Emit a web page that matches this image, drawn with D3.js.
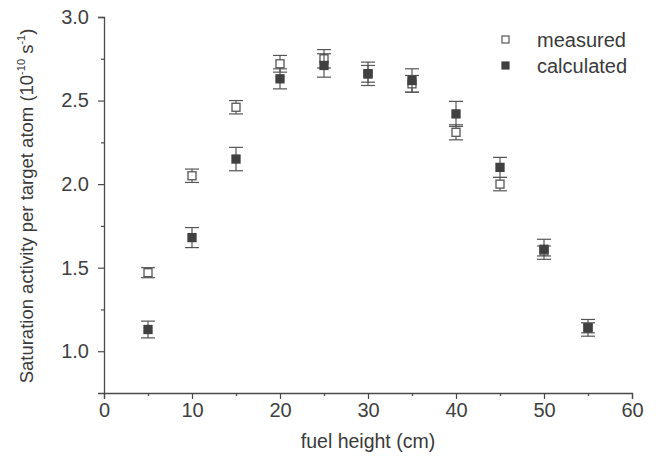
<!DOCTYPE html>
<html>
<head>
<meta charset="utf-8">
<script src="https://cdn.jsdelivr.net/npm/d3@7"></script>
<style>
  html, body { margin: 0; padding: 0; background: #fff; }
  svg { display: block; }
  text { font-family: "Liberation Sans", Arial, sans-serif; fill: #3a3a3a; }
</style>
</head>
<body>
<svg id="chart" width="660" height="460"></svg>
<script>
const fuelHeight = [5, 10, 15, 20, 25, 30, 35, 40, 45, 50, 55];
const measured    = [1.47, 2.05, 2.46, 2.72, 2.75, 2.66, 2.60, 2.31, 2.00, 1.60, 1.14];
const measuredErr = [0.03, 0.04, 0.04, 0.05, 0.055, 0.05, 0.05, 0.045, 0.04, 0.03, 0.03];
const calculated    = [1.13, 1.68, 2.15, 2.63, 2.71, 2.66, 2.62, 2.42, 2.10, 1.61, 1.14];
const calculatedErr = [0.05, 0.06, 0.07, 0.06, 0.07, 0.07, 0.07, 0.075, 0.06, 0.06, 0.05];
const xMajorTicks = [0, 10, 20, 30, 40, 50, 60];
const xMinorTicks = [5, 15, 25, 35, 45, 55];
const yMajorTicks = [1.0, 1.5, 2.0, 2.5, 3.0];
const yMinorTicks = [1.25, 1.75, 2.25, 2.75];
const seriesNames = ["measured", "calculated"];

const svg = d3.select("#chart");
const axisColor = "#4a4a4a";
const x = d3.scaleLinear().domain([0, 60]).range([104, 632]);
const y = d3.scaleLinear().domain([0.75, 3.0]).range([393, 17]);

// axes
const xAxis = svg.append("g").attr("transform", "translate(0,393)")
  .call(d3.axisBottom(x).tickValues(xMajorTicks).tickFormat(d3.format("d")).tickSize(6).tickPadding(4));
const xMinor = svg.append("g").attr("transform", "translate(0,393)")
  .call(d3.axisBottom(x).tickValues(xMinorTicks).tickFormat("").tickSize(3));
const yAxis = svg.append("g").attr("transform", "translate(104,0)")
  .call(d3.axisLeft(y).tickValues(yMajorTicks).tickFormat(d3.format(".1f")).tickSize(6).tickPadding(9));
const yMinor = svg.append("g").attr("transform", "translate(104,0)")
  .call(d3.axisLeft(y).tickValues(yMinorTicks).tickFormat("").tickSize(3));
[xAxis, xMinor, yAxis, yMinor].forEach(g => {
  g.selectAll("path.domain").attr("stroke", axisColor).attr("stroke-width", 1.3);
  g.selectAll(".tick line").attr("stroke", axisColor).attr("stroke-width", 1.2);
  g.selectAll(".tick text").attr("font-size", 20).style("fill", "#3f3f3f")
    .attr("font-family", "Liberation Sans, Arial, sans-serif");
});
xMinor.select("path.domain").remove();
yMinor.select("path.domain").remove();

// axis titles
svg.append("text").attr("x", x(30)).attr("y", 448).attr("text-anchor", "middle")
  .attr("font-size", 19.5).text("fuel height (cm)");
const yt = svg.append("text").attr("transform", "translate(33,206) rotate(-90)")
  .attr("text-anchor", "middle").attr("font-size", 18.5);
yt.append("tspan").text("Saturation activity per target atom (10");
yt.append("tspan").attr("dy", -8).attr("font-size", 11).text("-10");
yt.append("tspan").attr("dy", 8).text(" s");
yt.append("tspan").attr("dy", -8).attr("font-size", 11).text("-1");
yt.append("tspan").attr("dy", 8).text(")");

function drawSeries(vals, errs, filled) {
  const g = svg.append("g");
  const pts = fuelHeight.map((h, i) => ({ h, v: vals[i], e: errs[i] }));
  const capW = 7;
  const eb = g.selectAll("g.eb").data(pts).join("g").attr("class", "eb")
    .attr("stroke", "#555").attr("stroke-width", 1.2);
  eb.append("line").attr("x1", d => x(d.h)).attr("x2", d => x(d.h))
    .attr("y1", d => y(d.v - d.e)).attr("y2", d => y(d.v + d.e));
  eb.append("line").attr("x1", d => x(d.h) - capW).attr("x2", d => x(d.h) + capW)
    .attr("y1", d => y(d.v + d.e)).attr("y2", d => y(d.v + d.e));
  eb.append("line").attr("x1", d => x(d.h) - capW).attr("x2", d => x(d.h) + capW)
    .attr("y1", d => y(d.v - d.e)).attr("y2", d => y(d.v - d.e));
  const s = 8;
  g.selectAll("rect").data(pts).join("rect")
    .attr("x", d => x(d.h) - s / 2).attr("y", d => y(d.v) - s / 2)
    .attr("width", s).attr("height", s)
    .attr("fill", filled ? "#404040" : "#fff")
    .attr("stroke", filled ? "#404040" : "#555").attr("stroke-width", 1.3);
}
drawSeries(measured, measuredErr, false);
drawSeries(calculated, calculatedErr, true);

// legend
const legend = svg.append("g");
seriesNames.forEach((name, i) => {
  const ly = 40 + i * 26;
  legend.append("rect").attr("x", 502).attr("y", ly - 4).attr("width", 7).attr("height", 7)
    .attr("fill", i === 0 ? "#fff" : "#404040").attr("stroke", i === 0 ? "#555" : "#404040").attr("stroke-width", 1.2);
  legend.append("text").attr("x", 537).attr("y", ly + 7).attr("font-size", 20).text(name);
});
</script>
</body>
</html>
